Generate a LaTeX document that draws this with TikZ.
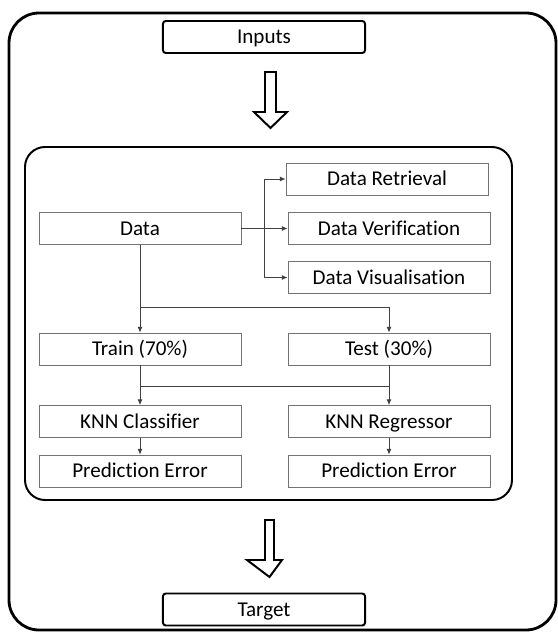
\documentclass[tikz,border=0pt]{standalone}
\usepackage{fontspec}
\setmainfont{Carlito}[Ligatures=NoCommon]
\usetikzlibrary{arrows.meta}
\begin{document}
\begin{tikzpicture}[
  x=0.025cm, y=-0.025cm,
  font=\fontsize{15}{18}\selectfont,
  box/.style={rectangle, minimum width=5.05cm, minimum height=0.8cm,
              inner sep=0pt, text height=11pt, text depth=1.5pt,
              align=center, draw=black!55, line width=0.6pt},
  io/.style={box, draw=black, line width=1.4pt, rounded corners=2pt},
  link/.style={draw=black!75, line width=0.6pt},
  arr/.style={link, -{Latex[length=4pt,width=3.5pt]}},
  fat/.style={draw=black, line width=1.4pt, fill=white, line join=miter}
]
\useasboundingbox (0,0) rectangle (558,632);
% frames
\draw[line width=2pt, rounded corners=0.75cm] (9,13) rectangle (556,630);
\draw[line width=1.4pt, rounded corners=0.5cm] (25,147) rectangle (512,500);
% inputs and target
\node[io] (inputs) at (264,37)    {Inputs};
\node[io] (target) at (264,609.5) {Target};
% big arrows
\draw[fat] (265,72) -- (276,72) -- (276,112) -- (287,112) -- (270.5,128)
  -- (254,112) -- (265,112) -- cycle;
\draw[fat] (265,520) -- (274,520) -- (274,560) -- (282,560) -- (269.5,577)
  -- (247,560) -- (265,560) -- cycle;
% data handling
\node[box] (data)   at (140,228.5) {Data};
\node[box] (retr)   at (387,179)   {Data Retrieval};
\node[box] (verif)  at (389,228.5) {Data Verification};
\node[box] (visual) at (389,277.5) {Data Visualisation};
% split and models
\node[box] (train) at (140,349)   {Train (70\%)};
\node[box] (test)  at (389,349)   {Test (30\%)};
\node[box] (knnc)  at (140,421.5) {KNN Classifier};
\node[box] (knnr)  at (389,421.5) {KNN Regressor};
\node[box] (errc)  at (140,471)   {Prediction Error};
\node[box] (errr)  at (389,471)   {Prediction Error};
% connectors
\coordinate (fork) at (264,228.5);
\draw[link] (data.east) -- (fork);
\draw[arr] (fork) |- (retr.west);
\draw[arr] (fork) -- (verif.west);
\draw[arr] (fork) |- (visual.west);
\draw[arr] (data.south) -- (train.north);
\draw[arr] (data.south |- 0,307) -| (test.north);
\draw[arr] (train.south) -- (knnc.north);
\draw[arr] (test.south) -- (knnr.north);
\draw[link] (train.south |- 0,386) -- (test.south |- 0,386);
\draw[arr] (knnc.south) -- (errc.north);
\draw[arr] (knnr.south) -- (errr.north);
\end{tikzpicture}
\end{document}
